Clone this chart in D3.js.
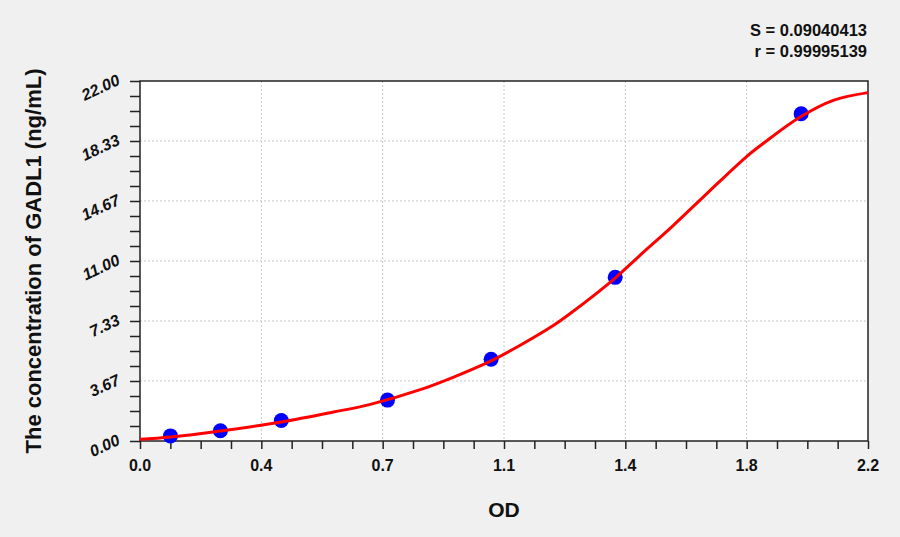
<!DOCTYPE html>
<html>
<head>
<meta charset="utf-8">
<script src="https://cdn.jsdelivr.net/npm/d3@7"></script>
<style>
  html, body { margin: 0; padding: 0; background: #f0f0f0; }
  svg { display: block; }
</style>
</head>
<body>
<script>
// standards (OD vs concentration)
var stdOD = [0.092, 0.243, 0.427, 0.748, 1.061, 1.436, 1.998];
var stdConc = [0.31, 0.63, 1.25, 2.5, 5, 10, 20];
// fitted curve
var curveOD = [0.0, 0.092, 0.243, 0.427, 0.585, 0.696, 0.847, 0.948, 1.064, 1.149, 1.250, 1.300, 1.436, 1.511, 1.612, 1.713, 1.834, 1.894, 1.995, 2.095, 2.2];
var curveConc = [0.1, 0.24, 0.61, 1.16, 1.77, 2.24, 3.14, 3.91, 4.93, 5.85, 7.07, 7.79, 9.96, 11.35, 13.18, 15.12, 17.4, 18.35, 19.80, 20.82, 21.29];
var xTicks = [0, 0.3667, 0.7333, 1.1, 1.4667, 1.8333, 2.2];
var xTickLabels = ["0.0", "0.4", "0.7", "1.1", "1.4", "1.8", "2.2"];
var yTicks = [0, 3.67, 7.33, 11, 14.67, 18.33, 22];
var yTickLabels = ["0.00", "3.67", "7.33", "11.00", "14.67", "18.33", "22.00"];
var statLines = ["S = 0.09040413", "r = 0.99995139"];

var W = 900, H = 537;
var margin = {top: 81, right: 32, bottom: 96, left: 140};
var width = W - margin.left - margin.right;
var height = H - margin.top - margin.bottom;
var font = "'Liberation Sans', Arial, sans-serif";

var svg = d3.select("body").append("svg")
  .attr("width", W).attr("height", H);

svg.append("rect").attr("width", W).attr("height", H).attr("fill", "#f0f0f0");

var g = svg.append("g")
  .attr("transform", "translate(" + margin.left + "," + margin.top + ")");

var x = d3.scaleLinear().domain([0, 2.2]).range([0, width]);
var y = d3.scaleLinear().domain([0, 22]).range([height, 0]);

g.append("rect").attr("width", width).attr("height", height).attr("fill", "#fff");

// grid
g.selectAll(".vgrid").data(xTicks.slice(1, -1)).enter().append("line")
  .attr("x1", function(d) { return x(d); }).attr("x2", function(d) { return x(d); })
  .attr("y1", 0).attr("y2", height)
  .attr("stroke", "#c8c8c8").attr("stroke-width", 1).attr("stroke-dasharray", "2,2");
g.selectAll(".hgrid").data(yTicks.slice(1, -1)).enter().append("line")
  .attr("y1", function(d) { return y(d); }).attr("y2", function(d) { return y(d); })
  .attr("x1", 0).attr("x2", width)
  .attr("stroke", "#c8c8c8").attr("stroke-width", 1).attr("stroke-dasharray", "2,2");

// minor + major ticks
var xMinor = d3.range(0, 25).map(function(i) { return i * 2.2 / 24; });
var yMinor = d3.range(0, 25).map(function(i) { return i * 22 / 24; });

var xAxis = g.append("g").attr("transform", "translate(0," + height + ")")
  .call(d3.axisBottom(x).tickValues(xMinor).tickSize(8).tickFormat(""));
var yAxis = g.append("g")
  .call(d3.axisLeft(y).tickValues(yMinor).tickSize(10).tickFormat(""));
[xAxis, yAxis].forEach(function(a) {
  a.select(".domain").remove();
  a.selectAll("line").attr("stroke", "#222").attr("stroke-width", 1.5);
});

// tick labels
g.selectAll(".xlab").data(xTicks).enter().append("text")
  .attr("x", function(d) { return x(d); })
  .attr("y", height + 30)
  .attr("text-anchor", "middle")
  .attr("font-family", font)
  .attr("font-weight", "bold").attr("font-size", 16).attr("fill", "#111")
  .text(function(d, i) { return xTickLabels[i]; });

g.selectAll(".ylab").data(yTicks).enter().append("text")
  .attr("transform", function(d) { return "translate(-19," + (y(d) + 3) + ") rotate(-25)"; })
  .attr("text-anchor", "end")
  .attr("font-family", font)
  .attr("font-style", "italic")
  .attr("font-weight", "bold").attr("font-size", 16).attr("fill", "#111")
  .text(function(d, i) { return yTickLabels[i]; });

// frame
g.append("rect").attr("width", width).attr("height", height)
  .attr("fill", "none").attr("stroke", "#222").attr("stroke-width", 1.5);

// fitted curve
var curveData = curveOD.map(function(d, i) { return [d, curveConc[i]]; });
var line = d3.line()
  .x(function(d) { return x(d[0]); })
  .y(function(d) { return y(d[1]); })
  .curve(d3.curveCatmullRom.alpha(0.5));

// points
g.selectAll(".pt").data(stdOD).enter().append("circle")
  .attr("cx", function(d) { return x(d); })
  .attr("cy", function(d, i) { return y(stdConc[i]); })
  .attr("r", 7.5)
  .attr("fill", "#0000ff");

g.append("path").datum(curveData)
  .attr("d", line)
  .attr("fill", "none").attr("stroke", "#ff0000").attr("stroke-width", 3)
  .attr("stroke-linejoin", "round");

// axis titles
svg.append("text")
  .attr("transform", "translate(41," + (margin.top + height / 2) + ") rotate(-90)")
  .attr("text-anchor", "middle")
  .attr("font-family", font)
  .attr("font-weight", "bold").attr("font-size", 22).attr("fill", "#111")
  .text("The concentration of GADL1 (ng/mL)");

svg.append("text")
  .attr("x", margin.left + width / 2).attr("y", 517)
  .attr("text-anchor", "middle")
  .attr("font-family", font)
  .attr("font-weight", "bold").attr("font-size", 21).attr("fill", "#111")
  .text("OD");

// stats
svg.selectAll(".stat").data(statLines).enter().append("text")
  .attr("x", 867).attr("y", function(d, i) { return 36 + i * 21; })
  .attr("text-anchor", "end")
  .attr("font-family", font)
  .attr("font-weight", "bold").attr("font-size", 16.5).attr("fill", "#111")
  .text(function(d) { return d; });
</script>
</body>
</html>
